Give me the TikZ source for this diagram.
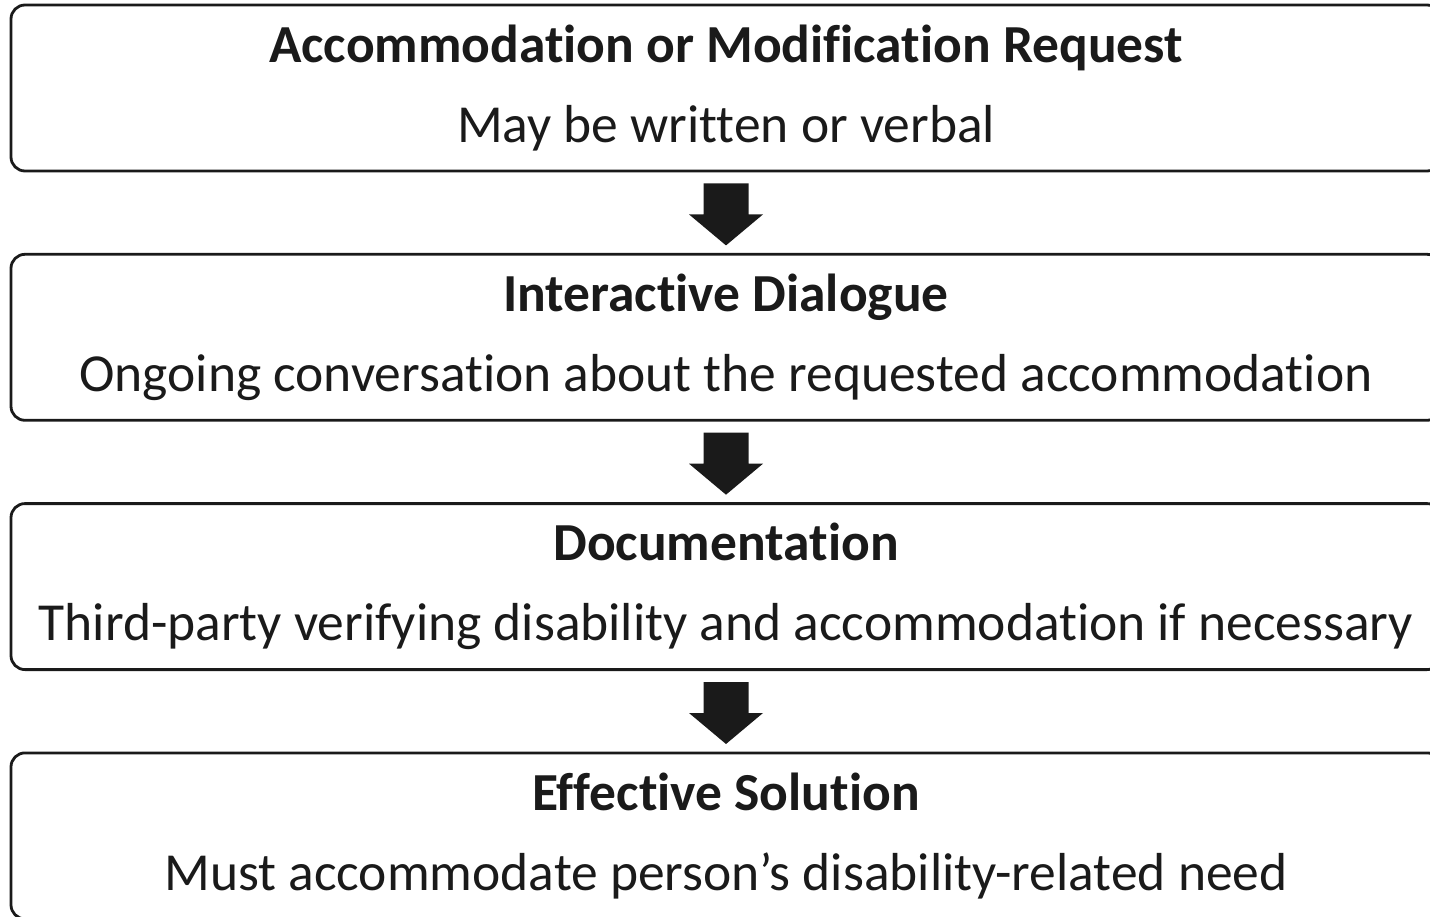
\documentclass[tikz,border=0pt]{standalone}
\usepackage{fontspec}
\setmainfont[Ligatures=NoCommon]{Carlito}
\usetikzlibrary{positioning}
\definecolor{ink}{HTML}{1A1A1A}

\tikzset{
    stage/.style={draw=ink, text=ink, line width=2.8pt, rounded corners=14pt,
        minimum width=1430pt, minimum height=166pt, align=center,
        font=\fontsize{53.5}{80}\selectfont},
}
\newcommand{\blockarrow}[1]{%
    \fill[ink] (#1.south) ++(-22.5,-11) -- ++(0,-31) -- ++(-14.5,0) -- ++(37,-31)
        -- ++(37,31) -- ++(-14.5,0) -- ++(0,31) -- cycle;}

\begin{document}
\begin{tikzpicture}[x=1pt, y=1pt, node distance=80.5pt]
        \clip (0,0) rectangle (1430,-917);
        \node[stage] (req) at (726,-88) {\textbf{Accommodation or Modification Request}\\May be written or verbal};
        \node[stage, below=of req] (dia) {\textbf{Interactive Dialogue}\\Ongoing conversation about the requested accommodation};
        \node[stage, below=of dia] (doc) {\textbf{Documentation}\\Third-party verifying disability and accommodation if necessary};
        \node[stage, below=of doc] (sol) {\textbf{Effective Solution}\\Must accommodate person’s disability-related need};
        \blockarrow{req}
        \blockarrow{dia}
        \blockarrow{doc}
    \end{tikzpicture}
\end{document}
